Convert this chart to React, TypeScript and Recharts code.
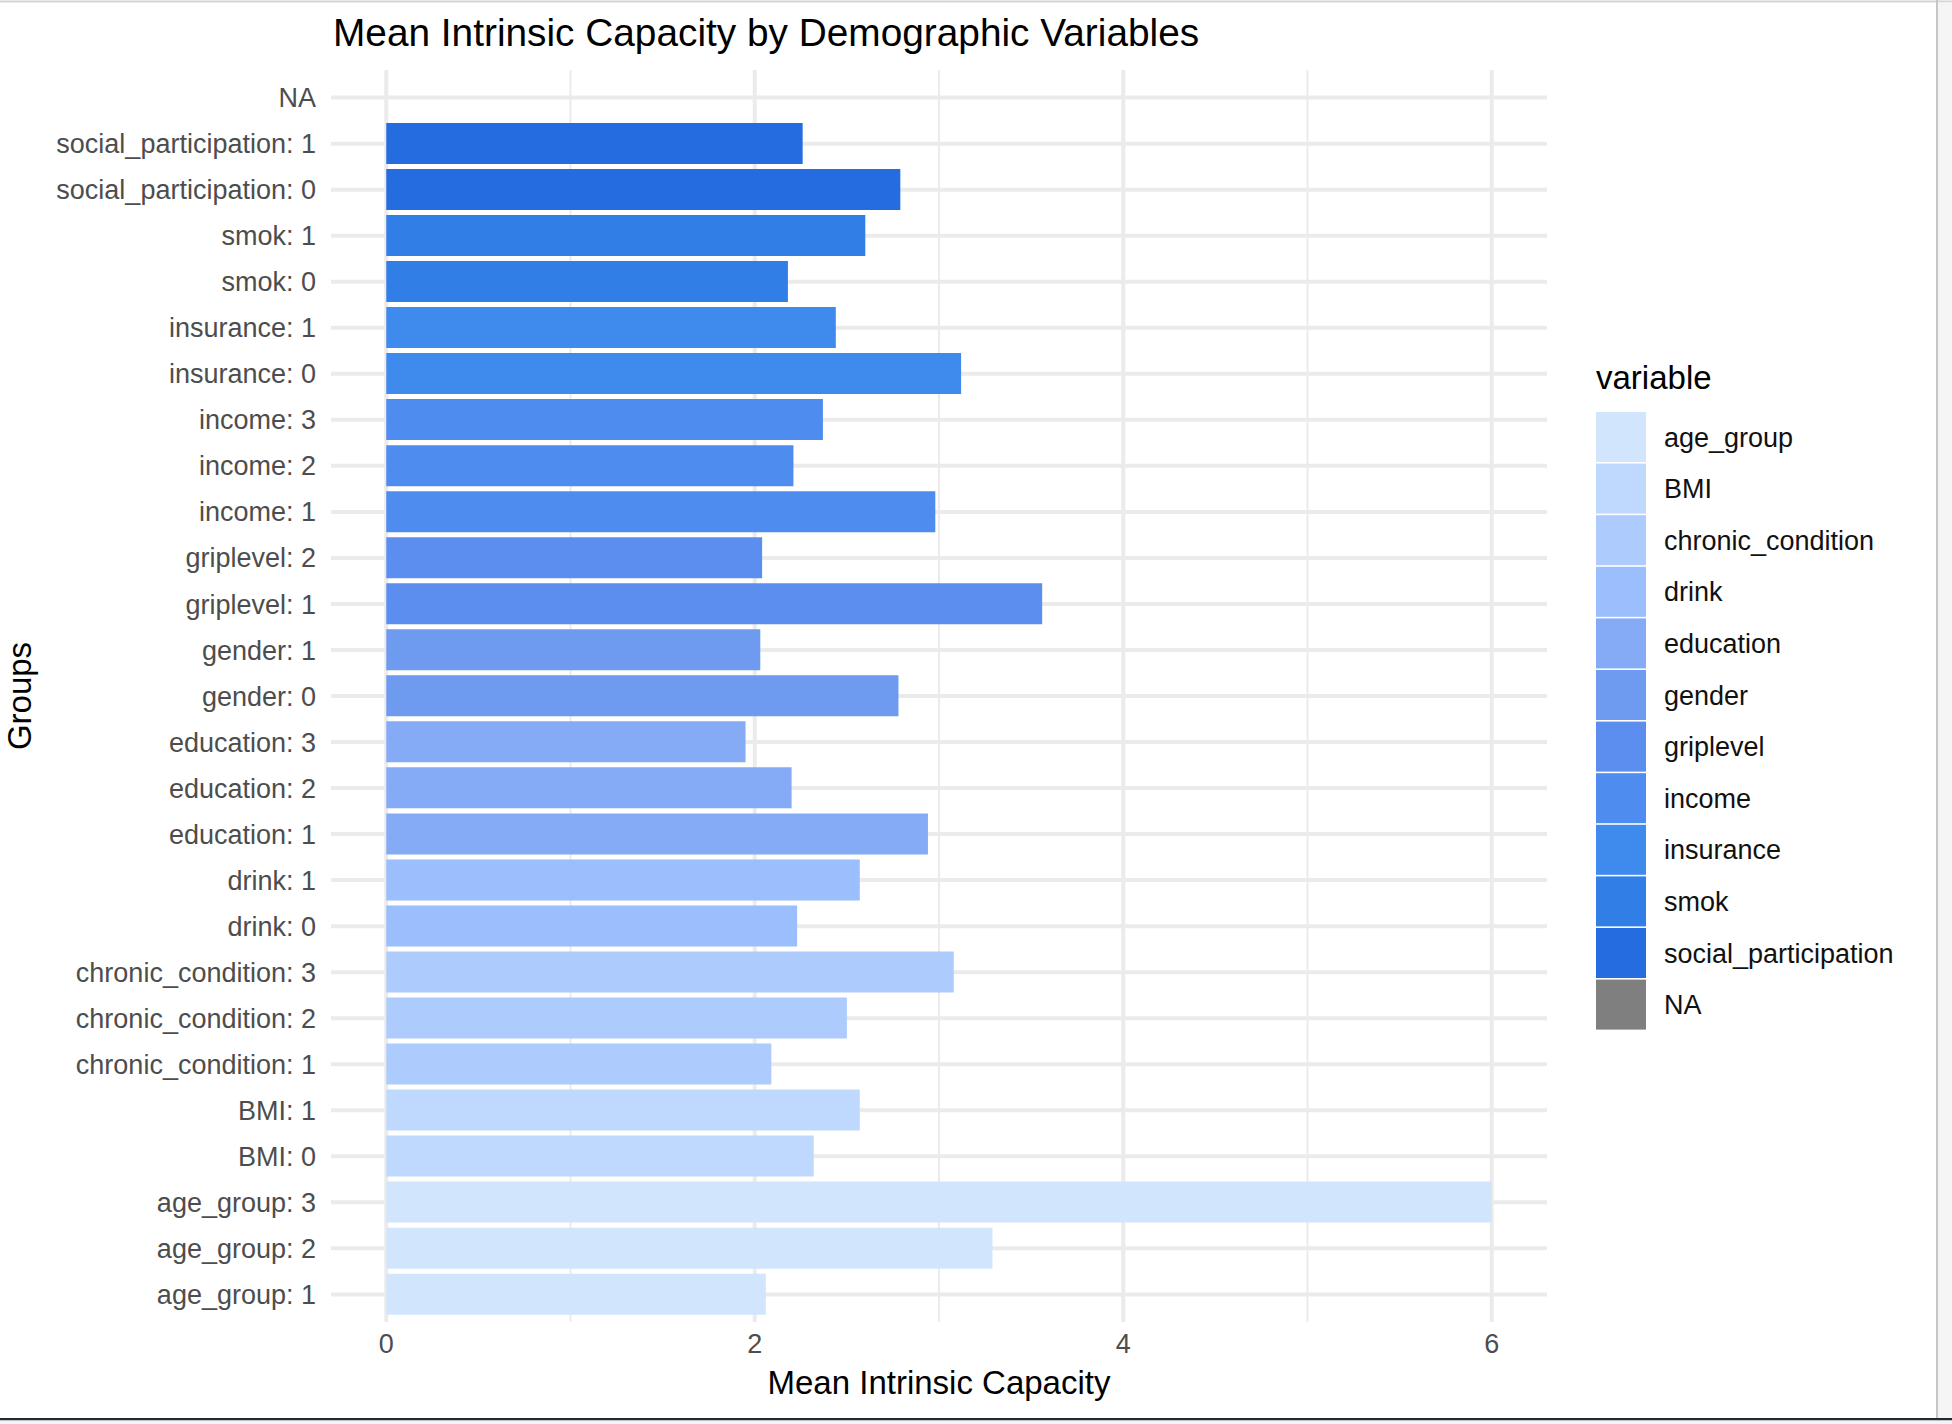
import React from 'react';
import { BarChart, Bar, XAxis, YAxis, CartesianGrid, Cell, Legend, Label } from 'recharts';

const FONT = '"Liberation Sans", Arial, Helvetica, sans-serif';

// Categories from bottom to top (as drawn)
const groupLabels = [
  'age_group: 1', 'age_group: 2', 'age_group: 3',
  'BMI: 0', 'BMI: 1',
  'chronic_condition: 1', 'chronic_condition: 2', 'chronic_condition: 3',
  'drink: 0', 'drink: 1',
  'education: 1', 'education: 2', 'education: 3',
  'gender: 0', 'gender: 1',
  'griplevel: 1', 'griplevel: 2',
  'income: 1', 'income: 2', 'income: 3',
  'insurance: 0', 'insurance: 1',
  'smok: 0', 'smok: 1',
  'social_participation: 0', 'social_participation: 1',
  'NA',
];

const groupVariables = [
  'age_group', 'age_group', 'age_group',
  'BMI', 'BMI',
  'chronic_condition', 'chronic_condition', 'chronic_condition',
  'drink', 'drink',
  'education', 'education', 'education',
  'gender', 'gender',
  'griplevel', 'griplevel',
  'income', 'income', 'income',
  'insurance', 'insurance',
  'smok', 'smok',
  'social_participation', 'social_participation',
  'NA',
];

const meanValues = [
  2.06, 3.29, 6.0,
  2.32, 2.57,
  2.09, 2.5, 3.08,
  2.23, 2.57,
  2.94, 2.2, 1.95,
  2.78, 2.03,
  3.56, 2.04,
  2.98, 2.21, 2.37,
  3.12, 2.44,
  2.18, 2.6,
  2.79, 2.26,
  null,
];

const legendVariables = [
  'age_group', 'BMI', 'chronic_condition', 'drink', 'education', 'gender',
  'griplevel', 'income', 'insurance', 'smok', 'social_participation', 'NA',
];

const legendColors = [
  '#d1e5fc', '#bed9fd', '#adcbfc', '#9bbefc', '#86abf6', '#6e9af0',
  '#5b8eef', '#4e8def', '#3f8bed', '#317fe6', '#256ce0', '#7f7f7f',
];

const xTicks = [0, 2, 4, 6];
const xMinorTicks = [1, 3, 5];

const colorOf = (v: string) => legendColors[legendVariables.indexOf(v)];

const data = groupLabels.map((g, i) => ({
  group: g,
  variable: groupVariables[i],
  value: meanValues[i],
}));

const renderLegend = () => (
  <svg width={340} height={700} style={{ display: 'block', overflow: 'visible' }}>
    <text x={0} y={29} fontFamily={FONT} fontSize={33} fill="#000">variable</text>
    {legendVariables.map((v, i) => (
      <g key={v}>
        <rect x={0} y={52 + i * 51.6} width={50} height={50} fill={legendColors[i]} />
        <text x={68} y={52 + i * 51.6 + 25} dy="0.355em" fontFamily={FONT} fontSize={27} fill="#111">
          {v}
        </text>
      </g>
    ))}
  </svg>
);

const XTitle = (props: any) => {
  const vb = props.viewBox || { x: 331, y: 1322, width: 1216 };
  return (
    <text x={vb.x + vb.width / 2} y={vb.y + 72} textAnchor="middle" fontFamily={FONT} fontSize={33} fill="#000">
      Mean Intrinsic Capacity
    </text>
  );
};

const YTitle = (props: any) => {
  const vb = props.viewBox || { x: 0, y: 70, height: 1252 };
  const cx = 31;
  const cy = vb.y + vb.height / 2;
  return (
    <text x={cx} y={cy} textAnchor="middle" transform={`rotate(-90, ${cx}, ${cy})`} fontFamily={FONT} fontSize={33} fill="#000">
      Groups
    </text>
  );
};

export default function App() {
  return (
    <div style={{ position: 'absolute', left: 0, top: 0, width: 1952, height: 1424, background: '#fff', fontFamily: FONT }}>
      <BarChart
        width={1952}
        height={1424}
        data={data}
        layout="vertical"
        margin={{ top: 70, right: 405, bottom: 62, left: 0 }}
        barCategoryGap="5%"
      >
        <CartesianGrid stroke="#ebebeb" strokeWidth={4} horizontal={true} vertical={true} syncWithTicks />
        <CartesianGrid stroke="#ebebeb" strokeWidth={2} horizontal={false} vertical={true} verticalValues={xMinorTicks} syncWithTicks />
        <XAxis
          type="number"
          domain={[-0.3, 6.3]}
          allowDataOverflow
          ticks={xTicks}
          axisLine={false}
          tickLine={false}
          tickSize={0}
          tickMargin={12}
          height={40}
          tick={{ fill: '#4d4d4d', fontSize: 27, fontFamily: FONT }}
        >
          <Label content={<XTitle />} />
        </XAxis>
        <YAxis
          type="category"
          dataKey="group"
          reversed
          interval={0}
          width={331}
          padding={{ top: 4.6, bottom: 4.6 }}
          axisLine={false}
          tickLine={false}
          tickSize={0}
          tickMargin={15}
          tick={{ fill: '#4d4d4d', fontSize: 27, fontFamily: FONT }}
        >
          <Label content={<YTitle />} />
        </YAxis>
        <Legend
          layout="vertical"
          align="center"
          verticalAlign="middle"
          content={renderLegend}
          wrapperStyle={{ left: 1596, top: 360, width: 340, height: 700 }}
        />
        <Bar dataKey="value" isAnimationActive={false}>
          {data.map((d) => (
            <Cell key={d.group} fill={colorOf(d.variable)} />
          ))}
        </Bar>
      </BarChart>
      <svg
        width={1952}
        height={1424}
        style={{ position: 'absolute', left: 0, top: 0, pointerEvents: 'none' }}
      >
        <text x={333} y={45.5} fontFamily={FONT} fontSize={38.8} fill="#000">
          Mean Intrinsic Capacity by Demographic Variables
        </text>
        <rect x={0} y={0.5} width={1952} height={2} fill="#d4d4d4" />
        <rect x={1936} y={0} width={2} height={1418} fill="#c6c6c6" />
        <rect x={1938} y={2.5} width={14} height={1416} fill="#f5f5f5" />
        <rect x={0} y={1418} width={1952} height={2.5} fill="#1f2a37" />
        <rect x={0} y={1420.5} width={1952} height={3.5} fill="#f4f4f4" />
      </svg>
    </div>
  );
}
